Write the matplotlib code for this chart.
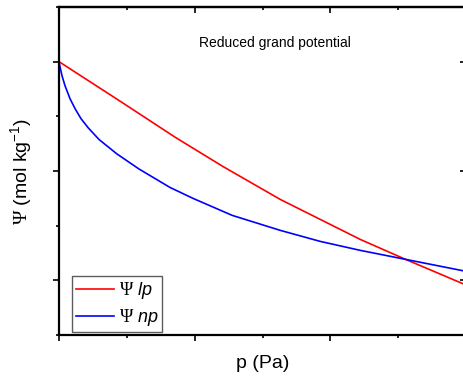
import matplotlib
matplotlib.use('Agg')
import matplotlib.pyplot as plt
from matplotlib.ticker import MultipleLocator, NullFormatter

plt.rcParams['font.family'] = ['Liberation Sans', 'DejaVu Sans']
plt.rcParams['mathtext.fontset'] = 'custom'
plt.rcParams['mathtext.rm'] = 'Liberation Serif'
plt.rcParams['mathtext.it'] = 'Liberation Sans:italic'
plt.rcParams['mathtext.sf'] = 'Liberation Sans'

# pressure (arbitrary units, no tick labels in the original)
p_lp = [0, 0.43, 0.856, 1.21, 1.631, 1.926, 2.221, 2.554, 2.989]
psi_lp = [3, 2.655, 2.309, 2.04, 1.740, 1.557, 1.374, 1.192, 0.963]

p_np = [0, 0.0074, 0.022, 0.044, 0.081, 0.118, 0.162, 0.214, 0.295, 0.426,
        0.590, 0.819, 0.989, 1.277, 1.631, 1.926, 2.221, 2.554, 2.989]
psi_np = [3, 2.954, 2.872, 2.781, 2.662, 2.571, 2.479, 2.397, 2.288, 2.157,
          2.018, 1.849, 1.749, 1.594, 1.457, 1.356, 1.274, 1.192, 1.085]

fig = plt.figure(figsize=(4.64, 3.76), dpi=100)
ax = fig.add_axes([59 / 464, 41 / 376, 407 / 464, 328 / 376])

ax.plot(p_lp, psi_lp, c='#ff0000', lw=1.2, label=r'$\Psi\ \mathit{lp}$')
ax.plot(p_np, psi_np, c='#0000ff', lw=1.2, label=r'$\Psi\ \mathit{np}$')

ax.set_xlim(0, 3)
ax.set_ylim(0.5, 3.5)
for a in (ax.xaxis, ax.yaxis):
    a.set_major_locator(MultipleLocator(1))
    a.set_minor_locator(MultipleLocator(0.5))
    a.set_major_formatter(NullFormatter())
for s in ax.spines.values():
    s.set_linewidth(1.6)
ax.tick_params(which='major', direction='out', length=4.5, width=1.2)
ax.tick_params(which='minor', direction='out', length=2.5, width=1.2)

# top / right axes with inward ticks
top = ax.secondary_xaxis('top')
right = ax.secondary_yaxis('right')
for sec, a in ((top, top.xaxis), (right, right.yaxis)):
    a.set_major_locator(MultipleLocator(1))
    a.set_minor_locator(MultipleLocator(0.5))
    a.set_major_formatter(NullFormatter())
    sec.tick_params(which='major', direction='in', length=4.5, width=1.2)
    sec.tick_params(which='minor', direction='in', length=2.5, width=1.2)
    for s in sec.spines.values():
        s.set_linewidth(1.6)

ax.set_xlabel('p (Pa)', fontsize=14, labelpad=6.5)
ax.set_ylabel(r'$\Psi$ (mol kg$^{\mathsf{-1}}$)', fontsize=14, labelpad=10)
ax.text(0.53, 0.89, 'Reduced grand potential', transform=ax.transAxes,
        ha='center', va='center', fontsize=10)

leg = ax.legend(loc='lower left', bbox_to_anchor=(13 / 407, 3 / 328),
                borderaxespad=0, fontsize=13, frameon=True, fancybox=False,
                handlelength=2.1, handletextpad=0.3, borderpad=0.2,
                labelspacing=0.35)
leg.get_frame().set_edgecolor('#333333')
leg.get_frame().set_linewidth(1.0)

plt.savefig('out.png', dpi=100)
